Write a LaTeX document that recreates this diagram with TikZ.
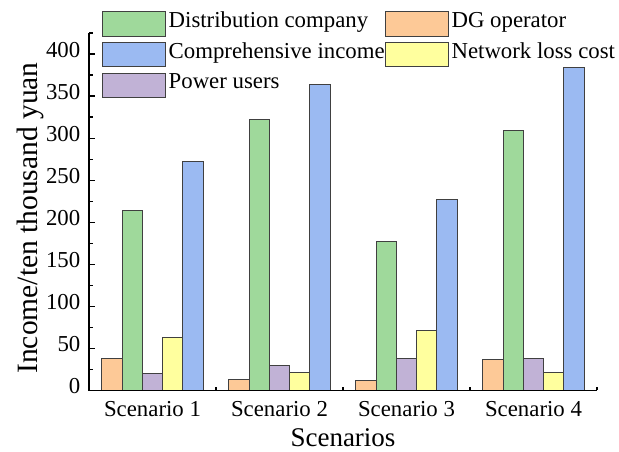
\documentclass[tikz,border=0pt]{standalone}
\usepackage{fontspec}
\setmainfont{Liberation Serif}
\usepackage{tikz}
\usetikzlibrary{positioning}

\definecolor{distcol}{RGB}{159,217,155}
\definecolor{dgcol}{RGB}{253,201,151}
\definecolor{compcol}{RGB}{155,186,242}
\definecolor{losscol}{RGB}{255,255,158}
\definecolor{usercol}{RGB}{193,178,214}
\definecolor{edgegray}{RGB}{64,64,64}

\begin{document}
\begin{tikzpicture}[x=1pt, y=1pt,
    bar/.style={draw=edgegray, line width=0.9pt},
    axis/.style={line width=1.1pt, black},
    ticklab/.style={anchor=east, inner sep=0pt, text height=0.676em, text depth=0pt,
                    font=\fontsize{22.8}{26}\selectfont},
    catlab/.style={anchor=base, inner sep=0pt, font=\fontsize{22.8}{26}\selectfont},
    axtitle/.style={inner sep=0pt, font=\fontsize{27}{30}\selectfont},
    legbox/.style={draw=edgegray, line width=0.9pt, minimum width=62.3pt, minimum height=24.5pt, inner sep=0pt},
    legtext/.style={inner sep=0pt, text height=0.662em, text depth=0pt,
                    font=\fontsize{22.8}{26}\selectfont}]
  \useasboundingbox (0,0) rectangle (619,451);

  \begin{scope}[shift={(89,60.7)}, y=0.8408pt]
        \draw [bar, fill=dgcol]   (12.7,0)  rectangle (33.0,38);    %S1 DG
        \draw [bar, fill=distcol] (33.0,0)  rectangle (53.3,214);   %S1 dist
        \draw [bar, fill=usercol] (53.3,0)  rectangle (73.6,20);    %S1 users
        \draw [bar, fill=losscol] (73.6,0)  rectangle (93.9,63);    %S1 loss
        \draw [bar, fill=compcol] (93.9,0)  rectangle (114.2,272);  %S1 comp

        \draw [bar, fill=dgcol]   (139.7,0) rectangle (160.0,13);   %S2 DG
        \draw [bar, fill=distcol] (160.0,0) rectangle (180.3,322);  %S2 dist
        \draw [bar, fill=usercol] (180.3,0) rectangle (200.6,29);   %S2 users
        \draw [bar, fill=losscol] (200.6,0) rectangle (220.9,21);   %S2 loss
        \draw [bar, fill=compcol] (220.9,0) rectangle (241.2,364);  %S2 comp

        \draw [bar, fill=dgcol]   (266.7,0) rectangle (287.0,12);   %S3 DG
        \draw [bar, fill=distcol] (287.0,0) rectangle (307.3,177);  %S3 dist
        \draw [bar, fill=usercol] (307.3,0) rectangle (327.6,38);   %S3 users
        \draw [bar, fill=losscol] (327.6,0) rectangle (347.9,71);   %S3 loss
        \draw [bar, fill=compcol] (347.9,0) rectangle (368.2,227);  %S3 comp

        \draw [bar, fill=dgcol]   (393.7,0) rectangle (414.0,37);   %S4 DG
        \draw [bar, fill=distcol] (414.0,0) rectangle (434.3,309);  %S4 dist
        \draw [bar, fill=usercol] (434.3,0) rectangle (454.6,38);   %S4 users
        \draw [bar, fill=losscol] (454.6,0) rectangle (474.9,21);   %S4 loss
        \draw [bar, fill=compcol] (474.9,0) rectangle (495.2,384);  %S4 comp

        \draw [axis] (0,425) -- (0,0) -- (508,0);                   %axes
        \foreach \v in {50,100,...,400} \draw [axis] (0,\v) -- ++(6pt,0);
        \foreach \v in {25,75,...,425}  \draw [axis] (0,\v) -- ++(3.5pt,0);
        \foreach \x in {127,254,381,508} \draw [axis] (\x,0) -- ++(0,3.5pt);
        \foreach \v in {0,50,...,400} \node [ticklab] (ylab\v) at (-8.5,\v) {\v};
  \end{scope}

  \node [catlab] (scen1) at (152.5,35) {Scenario 1};
  \node [catlab] (scen2) at (279.5,35) {Scenario 2};
  \node [catlab] (scen3) at (406.5,35) {Scenario 3};
  \node [catlab] (scen4) at (533.5,35) {Scenario 4};
  \node [axtitle, anchor=base] (xtitle) at (343,5) {Scenarios};
  \node [axtitle, anchor=base, rotate=90, font=\fontsize{29.5}{32}\selectfont] (ytitle) at (38,233) {Income/ten thousand yuan};

  %legend
  \node [legbox, fill=distcol] (kdist) at (133.9,427.2) {};
  \node [legtext, right=3pt of kdist] (tdist) {Distribution company};
  \node [legbox, fill=compcol, below=5.5pt of kdist] (kcomp) {};
  \node [legtext, right=3pt of kcomp] (tcomp) {Comprehensive income};
  \node [legbox, fill=usercol, below=5.5pt of kcomp] (kuser) {};
  \node [legtext, right=3pt of kuser] (tuser) {Power users};
  \node [legbox, fill=dgcol] (kdg) at (416.8,427.2) {};
  \node [legtext, right=3pt of kdg] (tdg) {DG operator};
  \node [legbox, fill=losscol, below=5.5pt of kdg] (kloss) {};
  \node [legtext, right=3pt of kloss] (tloss) {Network loss cost};
\end{tikzpicture}
\end{document}
